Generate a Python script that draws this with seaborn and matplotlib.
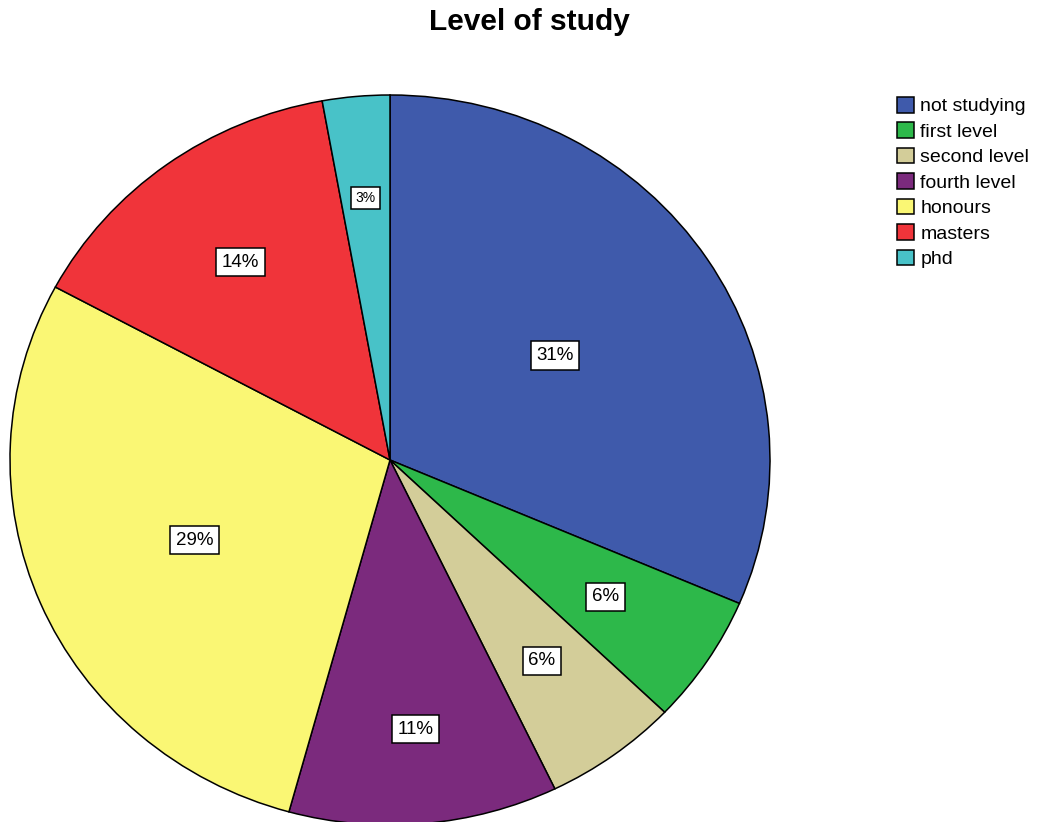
import numpy as np
import matplotlib
matplotlib.use("Agg")
import matplotlib.pyplot as plt
import seaborn as sns
from matplotlib.patches import Patch

# Respondents by current level of study
categories = ["not studying", "first level", "second level", "fourth level",
              "honours", "masters", "phd"]
counts = [11, 2, 2, 4, 10, 5, 1]

colors = ["#3F5AAB", "#2DB84A", "#D3CD99", "#7B2A7D", "#FAF774", "#F0343A", "#48C2C8"]
# radial position (fraction of radius) for each percentage label
label_radius = [0.52, 0.68, 0.68, 0.74, 0.56, 0.67, 0.72]

sns.set_theme(style="white")
plt.rcParams["font.family"] = ["Liberation Sans", "DejaVu Sans"]
plt.rcParams["text.color"] = "black"
palette = sns.color_palette(colors)

fig = plt.figure(figsize=(10.43, 8.22), dpi=100)
ax = fig.add_axes([10 / 1043, -3 / 822, 760 / 1043, 730 / 822])

total = sum(counts)
wedges, _ = ax.pie(
    counts,
    colors=palette,
    startangle=90,
    counterclock=False,
    wedgeprops=dict(edgecolor="black", linewidth=1.1),
)
ax.set_aspect("auto")
ax.set_xlim(-1, 1)
ax.set_ylim(-1, 1)
ax.axis("off")

for w, c, r in zip(wedges, counts, label_radius):
    ang = np.deg2rad((w.theta1 + w.theta2) / 2)
    ax.text(r * np.cos(ang), r * np.sin(ang), f"{round(100 * c / total):d}%",
            ha="center", va="center", fontsize=13.5 if c > 1 else 10,
            color="black",
            bbox=dict(boxstyle="square,pad=0.3", facecolor="white",
                      edgecolor="black", linewidth=1.1))

fig.text(529 / 1043, 1 - 22 / 822, "Level of study", ha="center", va="center",
         fontsize=21.5, fontweight="bold", color="black")

handles = [Patch(facecolor=col, edgecolor="black", linewidth=1.1) for col in palette]
fig.legend(handles, categories, loc="upper left",
           bbox_to_anchor=(897 / 1043, 1 - 97 / 822), frameon=False,
           fontsize=14, handlelength=0.85, handleheight=0.85, handletextpad=0.35,
           labelspacing=0.36, borderaxespad=0, borderpad=0, labelcolor="black")

fig.savefig("out.png", dpi=100, facecolor="white")
